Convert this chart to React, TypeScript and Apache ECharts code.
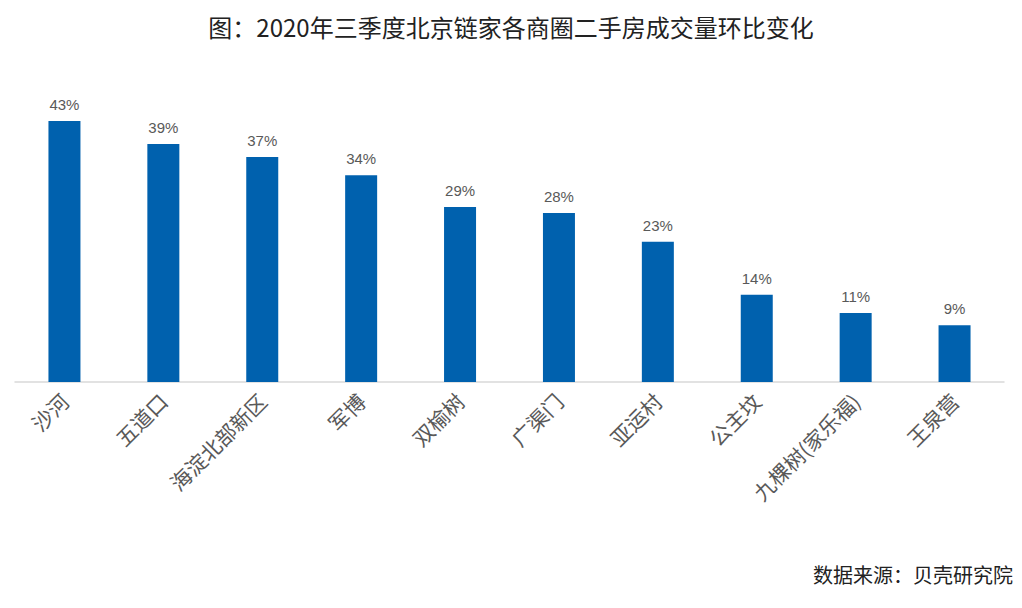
import React, { useEffect, useRef } from "react";
import * as echarts from "echarts";

const titleText = "图：2020年三季度北京链家各商圈二手房成交量环比变化";
const sourceText = "数据来源：贝壳研究院";
const categories = ["沙河", "五道口", "海淀北部新区", "军博", "双榆树", "广渠门", "亚运村", "公主坟", "九棵树(家乐福)", "王泉营"];
const values = [42.8, 39.0, 36.9, 33.9, 28.7, 27.7, 23.0, 14.3, 11.3, 9.3];

export default function App() {
  const ref = useRef<HTMLDivElement>(null);
  useEffect(() => {
    const chart = echarts.init(ref.current!, null, { renderer: "svg" });
    chart.setOption({
      animation: false,
      backgroundColor: "#ffffff",
      title: {
        text: titleText,
        left: "center",
        top: 1,
        textStyle: { fontSize: 24, fontWeight: "normal", color: "#222", fontFamily: "Noto Sans CJK SC" },
      },
      graphic: [
        {
          type: "text",
          right: 1,
          top: 556,
          style: { text: sourceText, fontSize: 20, fill: "#222", fontFamily: "Noto Sans CJK SC" },
        },
      ],
      grid: { left: 7, right: 10, top: 69, height: 305, containLabel: false },
      xAxis: {
        type: "category",
        data: categories,
        axisLine: { lineStyle: { color: "#d9d9d9", width: 1.5 } },
        axisTick: { show: false },
        axisLabel: { rotate: 45, interval: 0, margin: 15, fontSize: 21, color: "#595959", fontFamily: "Noto Sans CJK SC" },
      },
      yAxis: { type: "value", min: 0, max: 50, show: false, splitLine: { show: false } },
      series: [
        {
          type: "bar",
          data: values,
          barWidth: 32,
          itemStyle: { color: "#0061AE" },
          label: {
            show: true,
            position: "top",
            distance: 9,
            fontSize: 15,
            color: "#595959",
            fontFamily: "Liberation Sans",
            formatter: (p: any) => Math.round(p.value) + "%",
          },
        },
      ],
    });
    return () => chart.dispose();
  }, []);
  return <div ref={ref} style={{ width: 1006, height: 592 }} />;
}
